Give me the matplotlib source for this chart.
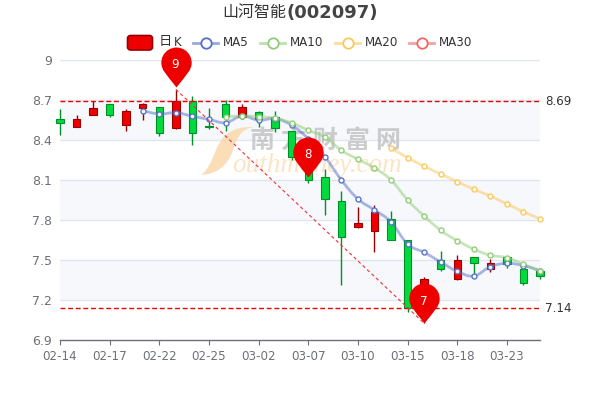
import matplotlib
matplotlib.use('Agg')
import matplotlib.pyplot as plt
import numpy as np
from matplotlib.path import Path
from matplotlib.patches import PathPatch, FancyBboxPatch

plt.rcParams['font.family'] = ['DejaVu Sans', 'Noto Sans CJK SC']

dates = ['02-14', '02-15', '02-16', '02-17', '02-18', '02-21', '02-22', '02-23', '02-24', '02-25',
         '02-28', '03-01', '03-02', '03-03', '03-04', '03-07', '03-08', '03-09', '03-10', '03-11',
         '03-14', '03-15', '03-16', '03-17', '03-18', '03-21', '03-22', '03-23', '03-24', '03-25']

# body top, body bottom, wick high, wick low
body_top = [8.56, 8.56, 8.64, 8.67, 8.62, 8.67, 8.65, 8.69, 8.69, 8.507,
            8.67, 8.65, 8.61, 8.57, 8.47, 8.27, 8.12, 7.94, 7.78, 7.86,
            7.81, 7.65, 7.36, 7.50, 7.50, 7.52, 7.48, 7.525, 7.43, 7.42]
body_bottom = [8.53, 8.50, 8.59, 8.59, 8.51, 8.64, 8.45, 8.49, 8.45, 8.50,
               8.57, 8.57, 8.555, 8.49, 8.27, 8.10, 7.96, 7.67, 7.75, 7.72,
               7.65, 7.14, 7.18, 7.43, 7.36, 7.48, 7.43, 7.47, 7.33, 7.38]
high = [8.63, 8.59, 8.69, 8.67, 8.63, 8.68, 8.65, 8.775, 8.73, 8.64,
        8.70, 8.67, 8.62, 8.62, 8.47, 8.28, 8.18, 8.02, 7.90, 7.91,
        7.87, 7.65, 7.37, 7.57, 7.54, 7.52, 7.51, 7.53, 7.43, 7.42]
low = [8.44, 8.50, 8.59, 8.57, 8.47, 8.55, 8.43, 8.48, 8.36, 8.48,
       8.47, 8.56, 8.50, 8.46, 8.25, 8.08, 7.84, 7.31, 7.74, 7.56,
       7.65, 7.11, 7.03, 7.42, 7.35, 7.38, 7.41, 7.44, 7.31, 7.355]
is_red = [0, 1, 1, 0, 1, 1, 0, 1, 0, 0,
          0, 1, 0, 0, 0, 0, 0, 0, 1, 1,
          0, 0, 1, 0, 1, 0, 1, 0, 0, 0]

ma5 = [8.62, 8.595, 8.605, 8.578, 8.555, 8.53, 8.58, 8.548, 8.56, 8.51,
       8.41, 8.275, 8.10, 7.9575, 7.875, 7.785, 7.62, 7.5575, 7.485, 7.415,
       7.38, 7.45, 7.475, 7.4575, 7.42]
ma10 = [8.575, 8.58, 8.575, 8.5625, 8.528, 8.4725, 8.4225, 8.3225, 8.255, 8.19,
        8.10, 7.95, 7.83, 7.7225, 7.645, 7.5825, 7.535, 7.5175, 7.4675, 7.42]
ma20 = [8.3375, 8.2675, 8.2025, 8.145, 8.0875, 8.03, 7.98, 7.92, 7.8625, 7.8075]

pin_idx = [7, 15, 22]
pin_val = [8.80, 8.125, 7.025]
pin_labels = ['9', '8', '7']
max_line = 8.69
min_line = 7.14

yticks = [6.9, 7.2, 7.5, 7.8, 8.1, 8.4, 8.7, 9]
ytick_labels = ['6.9', '7.2', '7.5', '7.8', '8.1', '8.4', '8.7', '9']
xtick_idx = [0, 3, 6, 9, 12, 15, 18, 21, 24, 27]

RED = '#ee0000'
RED_EDGE = '#990000'
GREEN = '#00da3c'
GREEN_EDGE = '#008f28'
BLUE = '#5470c6'
LIME = '#91cc75'
YELLOW = '#fac858'
PINK = '#ee6666'
GREY = '#6e7079'
CJK = ['Noto Sans CJK SC', 'DejaVu Sans']


def smooth_path(xs, ys, k=0.2):
    # bezier through the points, like the rounded lines of the original
    xs = np.asarray(xs, float)
    ys = np.asarray(ys, float)
    verts = [(xs[0], ys[0])]
    codes = [Path.MOVETO]
    for i in range(len(xs) - 1):
        p0 = max(i - 1, 0)
        p3 = min(i + 2, len(xs) - 1)
        verts.append((xs[i] + k * (xs[i + 1] - xs[p0]), ys[i] + k * (ys[i + 1] - ys[p0])))
        verts.append((xs[i + 1] - k * (xs[p3] - xs[i]), ys[i + 1] - k * (ys[p3] - ys[i])))
        verts.append((xs[i + 1], ys[i + 1]))
        codes += [Path.CURVE4, Path.CURVE4, Path.CURVE4]
    return Path(verts, codes)


def pin_marker():
    # tip at the origin, units are pixels
    arc = Path.arc(-38, 218)
    v = arc.vertices * 15 + np.array([0, 24.5])
    c = arc.codes.copy()
    start = v[0]
    end = v[-1]
    verts = list(v) + [(end[0] + 3.5, end[1] - 5), (0, 0), (start[0] - 3.5, start[1] - 5), start, start]
    codes = list(c) + [Path.CURVE3, Path.CURVE3, Path.CURVE3, Path.CURVE3, Path.CLOSEPOLY]
    return Path(verts, codes)


fig = plt.figure(figsize=(6, 4), dpi=100)

ax = fig.add_axes([60 / 600, 60 / 400, 480 / 600, 280 / 400], zorder=1)
ax.set_xlim(0, 29)
ax.set_ylim(6.9, 9)

# pixel layer for title and legend, its transform is also used for the watermark
back = fig.add_axes([0, 0, 1, 1], zorder=2)
back.set_xlim(0, 600)
back.set_ylim(400, 0)
back.axis('off')
back.patch.set_alpha(0)
px = back.transData

# bands and grid
for i in range(len(yticks) - 1):
    if i % 2 == 1:
        ax.axhspan(yticks[i], yticks[i + 1], color='#f6f8fc', lw=0, zorder=0)
for t in yticks[1:]:
    ax.axhline(t, color='#e0e6f1', lw=1, zorder=0.5)

for s in ['top', 'left', 'right']:
    ax.spines[s].set_visible(False)
ax.spines['bottom'].set_color(GREY)
ax.spines['bottom'].set_linewidth(1)
ax.set_yticks(yticks)
ax.set_yticklabels(ytick_labels, fontsize=9, color=GREY)
ax.tick_params(axis='y', length=0, pad=5.5)
ax.set_xticks(xtick_idx)
ax.set_xticklabels([dates[i] for i in xtick_idx], fontsize=8.6, color=GREY)
ax.tick_params(axis='x', length=3.6, width=0.8, color=GREY, pad=3.8)

# watermark, under the candles
swoosh = Path([(201, 175), (218, 174), (228, 165), (233, 150), (238, 135), (243, 128), (255, 127),
               (232, 126), (222, 135), (216, 150), (212, 160), (208, 170), (201, 175)],
              [Path.MOVETO] + [Path.CURVE4] * 12)
ax.add_patch(PathPatch(swoosh, fc='#fbd9ab', ec='none', alpha=0.85, zorder=1, transform=px, clip_on=False))
for cx, ch in zip([262, 293, 325, 357, 388], '南方财富网'):
    ax.text(cx, 141, ch, fontsize=18, color='#c0c0c0', alpha=0.8, va='center', ha='center',
            family=CJK, fontweight='bold', transform=px, zorder=1)
ax.text(232, 166, 'outhmoney.com', fontsize=19.5, color='#fbd9ab', alpha=0.7, va='center',
        family='Liberation Serif', style='italic', transform=px, zorder=1)

# candles
x = np.arange(len(dates))
for i in x:
    face = RED if is_red[i] else GREEN
    edge = RED_EDGE if is_red[i] else GREEN_EDGE
    ax.vlines(i, low[i], high[i], color=edge, lw=1, zorder=2, clip_on=False)
    ax.bar(i, body_top[i] - body_bottom[i], bottom=body_bottom[i], width=0.45,
           color=face, edgecolor=edge, linewidth=0.8, zorder=2.5, clip_on=False)

# moving averages
for vals, col in [(ma5, BLUE), (ma10, LIME), (ma20, YELLOW)]:
    xs = x[-len(vals):]
    ax.add_patch(PathPatch(smooth_path(xs, vals), fc='none', ec=col, lw=2, alpha=0.5,
                           zorder=3, clip_on=False))
    ax.plot(xs, vals, ls='none', marker='o', ms=3.6, mfc='white', mec=col, mew=1,
            zorder=3.2, clip_on=False, alpha=0.95)

# high/low lines and the link between the pins
ax.axhline(max_line, color=RED, lw=1, ls=(0, (3.5, 2)), zorder=3.5)
ax.axhline(min_line, color=RED, lw=1, ls=(0, (3.5, 2)), zorder=3.5)
ax.plot([pin_idx[0], pin_idx[2]], [pin_val[0] - 0.02, pin_val[2]], color='#f0303a', lw=0.8,
        ls=(0, (3, 2.5)), zorder=3.5)
ax.text(29.33, max_line, '8.69', fontsize=8.6, color='#333333', va='center', clip_on=False)
ax.text(29.33, min_line, '7.14', fontsize=8.6, color='#333333', va='center', clip_on=False)

# pins
pin = pin_marker()
for i, v, lab in zip(pin_idx, pin_val, pin_labels):
    ax.plot(i, v, marker=pin, ms=57.6, mfc=RED, mec='none', zorder=5, clip_on=False)
    ax.annotate(lab, (i, v), xytext=(-0.5, 16), textcoords='offset points', color='white', fontsize=8.6,
                ha='center', va='center', zorder=6)

# title
back.text(222, 13, '山河智能', fontsize=11.5, color='#333333', va='center', ha='left',
          family=CJK, fontweight='light')
back.text(286, 13, '(002097)', fontsize=13, color='#444444', va='center', ha='left', fontweight='bold')

# legend
back.add_patch(FancyBboxPatch((127.5, 35.5), 25, 14.5, boxstyle='round,pad=0,rounding_size=3',
                              fc=RED, ec=RED_EDGE, lw=1.2))
back.text(158.5, 41, '日', fontsize=9.5, color='#333333', va='center', ha='left', family=CJK)
back.text(174, 43, 'K', fontsize=8.6, color='#333333', va='center', ha='left')
for x0, name, col in [(193, 'MA5', BLUE), (260, 'MA10', LIME), (335, 'MA20', YELLOW), (409, 'MA30', PINK)]:
    back.plot([x0, x0 + 25], [42.5, 42.5], color=col, lw=2, alpha=0.6)
    back.plot(x0 + 12.5, 42.5, marker='o', ms=7.5, mfc='white', mec=col, mew=1.3)
    back.text(x0 + 30, 42.5, name, fontsize=8.6, color='#333333', va='center', ha='left')

back.set_xlim(0, 600)
back.set_ylim(400, 0)

fig.savefig('out.png', dpi=100)
